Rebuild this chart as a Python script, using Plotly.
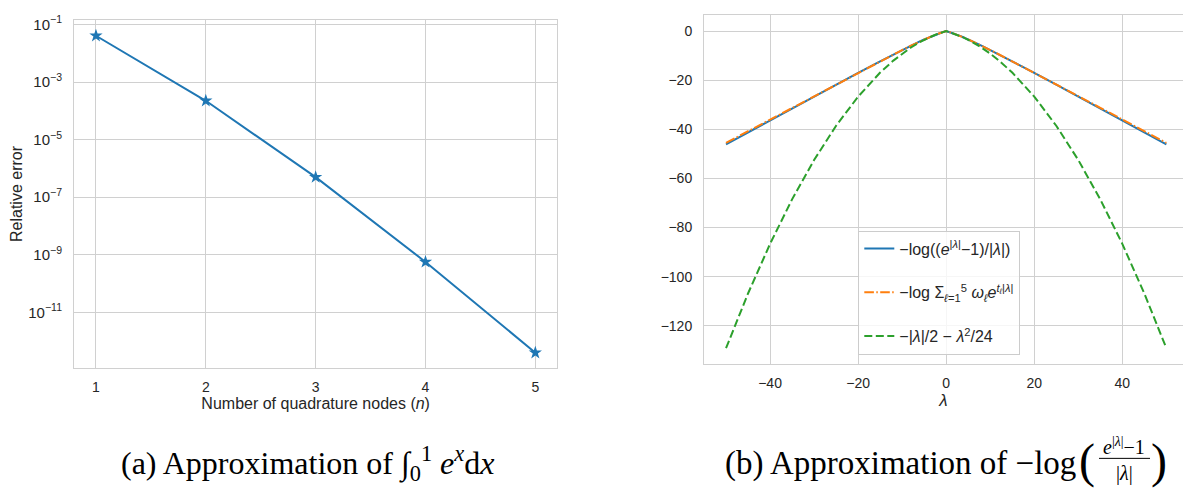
import plotly.graph_objects as go

# ---------------- data ----------------
nodes = [1, 2, 3, 4, 5]
rel_error = [4.05e-2, 2.23e-4, 4.96e-7, 5.62e-10, 3.95e-13]
err_tickvals = [1e-1, 1e-3, 1e-5, 1e-7, 1e-9, 1e-11]
err_ticktext = ["10<sup>−1</sup>", "10<sup>−3</sup>", "10<sup>−5</sup>",
                "10<sup>−7</sup>", "10<sup>−9</sup>", "10<sup>−11</sup>"]
node_ticks = [1, 2, 3, 4, 5]

lam = [-50, -45, -40, -35, -30, -25, -20, -15, -12, -10, -8, -6, -5, -4, -3, -2, -1, 0,
       1, 2, 3, 4, 5, 6, 8, 10, 12, 15, 20, 25, 30, 35, 40, 45, 50]
exact_vals = [-46.088, -41.193, -36.311, -31.445, -26.599, -21.781, -17.004, -12.292, -9.515,
              -7.697, -5.920, -4.206, -3.384, -2.595, -1.850, -1.161, -0.541, 0.0,
              -0.541, -1.161, -1.850, -2.595, -3.384, -4.206, -5.920, -7.697, -9.515,
              -12.292, -17.004, -21.781, -26.599, -31.445, -36.311, -41.193, -46.088]
quad_vals = [-45.521, -40.757, -35.992, -31.228, -26.468, -21.714, -16.979, -12.286, -9.514,
             -7.697, -5.920, -4.206, -3.384, -2.595, -1.850, -1.161, -0.541, 0.0,
             -0.541, -1.161, -1.850, -2.595, -3.384, -4.206, -5.920, -7.697, -9.514,
             -12.286, -16.979, -21.714, -26.468, -31.228, -35.992, -40.757, -45.521]
taylor_vals = [-129.167, -106.875, -86.667, -68.542, -52.5, -38.542, -26.667, -16.875, -12.0,
               -9.167, -6.667, -4.5, -3.542, -2.667, -1.875, -1.167, -0.542, 0.0,
               -0.542, -1.167, -1.875, -2.667, -3.542, -4.5, -6.667, -9.167, -12.0,
               -16.875, -26.667, -38.542, -52.5, -68.542, -86.667, -106.875, -129.167]
lam_ticks = [-40, -20, 0, 20, 40]
lam_ticktext = ["−40", "−20", "0", "20", "40"]
val_ticks = [0, -20, -40, -60, -80, -100, -120]
val_ticktext = ["0", "−20", "−40", "−60", "−80", "−100", "−120"]

names = ["−log((<i>e</i><sup>|<i>λ</i>|</sup>−1)/|<i>λ</i>|)",
         "−log Σ<sub><i>ℓ</i>=1</sub><sup>5</sup> <i>ω<sub>ℓ</sub>e</i><sup><i>t<sub>ℓ</sub></i>|<i>λ</i>|</sup>",
         "−|<i>λ</i>|/2 − <i>λ</i><sup>2</sup>/24"]

# ---------------- figure ----------------
W, H = 1183, 488
BLUE, ORANGE, GREEN = "#1f77b4", "#ff7f0e", "#2ca02c"
GRID = "#d0d0d0"
TXT = "#262626"
FONT = "Liberation Sans, Arial, sans-serif"

fig = go.Figure()

fig.add_trace(go.Scatter(x=nodes, y=rel_error, mode="lines+markers",
                         line=dict(color=BLUE, width=2),
                         marker=dict(symbol="star", size=10, color=BLUE),
                         xaxis="x", yaxis="y", showlegend=False))

fig.add_trace(go.Scatter(x=lam, y=exact_vals, mode="lines", name=names[0],
                         line=dict(color=BLUE, width=2),
                         xaxis="x2", yaxis="y2", legendgroup="a"))
fig.add_trace(go.Scatter(x=lam, y=quad_vals, mode="lines", name=names[1],
                         line=dict(color=ORANGE, width=2, dash="9.6px,2.4px,1.5px,2.4px"),
                         xaxis="x2", yaxis="y2", legendgroup="b"))
fig.add_trace(go.Scatter(x=lam, y=taylor_vals, mode="lines", name=names[2],
                         line=dict(color=GREEN, width=2, dash="8px,3.5px"),
                         xaxis="x2", yaxis="y2", legendgroup="c"))

def px_x(p):
    return p / W

def px_y(p):
    return 1 - p / H

axis_common = dict(showgrid=True, gridcolor=GRID, gridwidth=1, showline=True,
                   linecolor=GRID, linewidth=1, ticks="", zeroline=False)

def tf(size):
    return dict(family=FONT, size=size, color=TXT)

fig.update_layout(
    width=W, height=H,
    margin=dict(l=0, r=0, t=0, b=0),
    paper_bgcolor="white", plot_bgcolor="white",
    font=dict(family=FONT, color=TXT),
    xaxis=dict(domain=[px_x(74), px_x(557.3)], range=[0.8, 5.2], anchor="y",
               tickvals=node_ticks, mirror=True, ticklabelstandoff=6, tickfont=tf(14),
               title=dict(text="Number of quadrature nodes (<i>n</i>)",
                          font=tf(16), standoff=3),
               **axis_common),
    yaxis=dict(domain=[px_y(366.7), px_y(14)], type="log", range=[-12.94, -0.84],
               anchor="x", tickvals=err_tickvals, ticktext=err_ticktext, mirror=True,
               ticklabelstandoff=8, tickfont=tf(15),
               title=dict(text="Relative error", font=tf(16), standoff=1),
               **axis_common),
    xaxis2=dict(domain=[px_x(704), 1.0], range=[-55, 53.78], anchor="y2",
                tickvals=lam_ticks, ticktext=lam_ticktext, mirror=True,
                ticklabelstandoff=6, tickfont=tf(14),
                title=dict(text="<i>λ</i>", font=tf(17), standoff=0),
                **axis_common),
    yaxis2=dict(domain=[px_y(362.7), px_y(9.3)], range=[-135.7, 6.5], anchor="x2",
                tickvals=val_ticks, ticktext=val_ticktext, mirror=False,
                ticklabelstandoff=8, tickfont=tf(14), **axis_common),
    legend=dict(x=px_x(858.3), y=px_y(227.3), xanchor="left", yanchor="top",
                bgcolor="rgba(255,255,255,0.8)", bordercolor="#cccccc", borderwidth=1,
                font=tf(16), tracegroupgap=20, itemwidth=30),
)

SERIF = "Liberation Serif, Times New Roman, serif"

fig.add_annotation(text="(a) Approximation of ∫<sub>0</sub><sup>1</sup> <i>e</i><sup><i>x</i></sup>d<i>x</i>",
                   x=px_x(307), y=px_y(463), xref="paper", yref="paper",
                   xanchor="center", yanchor="middle", showarrow=False,
                   font=dict(family=SERIF, size=32, color="black"))
fig.add_annotation(text="(b) Approximation of −log",
                   x=px_x(1078), y=px_y(463), xref="paper", yref="paper",
                   xanchor="right", yanchor="middle", showarrow=False,
                   font=dict(family=SERIF, size=33, color="black"))
fig.add_annotation(text="(", x=px_x(1087), y=px_y(461), xref="paper", yref="paper",
                   xanchor="center", yanchor="middle", showarrow=False,
                   font=dict(family=SERIF, size=48, color="black"))
fig.add_annotation(text=")", x=px_x(1159), y=px_y(461), xref="paper", yref="paper",
                   xanchor="center", yanchor="middle", showarrow=False,
                   font=dict(family=SERIF, size=48, color="black"))
fig.add_annotation(text="<i>e</i><sup>|<i>λ</i>|</sup>−1", x=px_x(1124), y=px_y(445),
                   xref="paper", yref="paper", xanchor="center", yanchor="middle",
                   showarrow=False, font=dict(family=SERIF, size=20, color="black"))
fig.add_annotation(text="|<i>λ</i>|", x=px_x(1124), y=px_y(473),
                   xref="paper", yref="paper", xanchor="center", yanchor="middle",
                   showarrow=False, font=dict(family=SERIF, size=20, color="black"))
fig.add_shape(type="line", xref="paper", yref="paper",
              x0=px_x(1099), x1=px_x(1150), y0=px_y(458), y1=px_y(458),
              line=dict(color="black", width=1))

fig.write_html("out.html")
